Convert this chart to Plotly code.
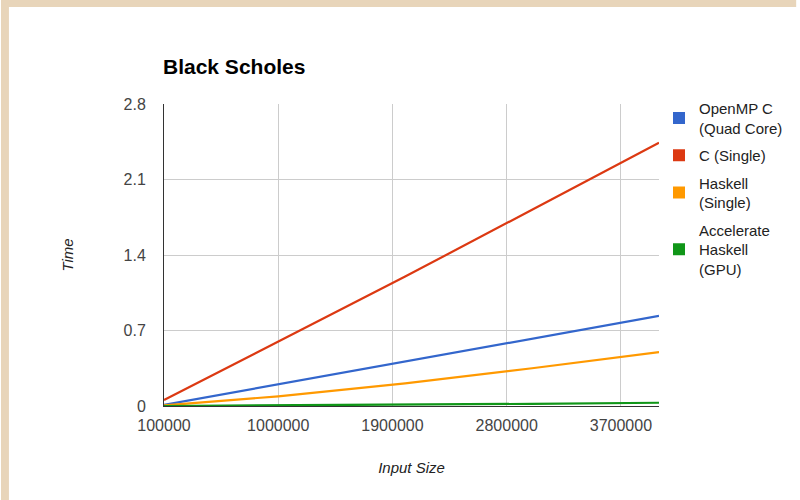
import plotly.graph_objects as go

input_size = [100000, 1000000, 2000000, 3000000, 4000000]
openmp_quad = [0.01, 0.20, 0.415, 0.625, 0.835]
c_single = [0.055, 0.60, 1.20, 1.82, 2.44]
haskell_single = [0.005, 0.09, 0.21, 0.35, 0.50]
accelerate_gpu = [0.0, 0.005, 0.012, 0.02, 0.03]

series_names = ["OpenMP C<br>(Quad Core)", "C (Single)", "Haskell<br>(Single)",
                "Accelerate<br>Haskell<br>(GPU)"]
series_vals = [openmp_quad, c_single, haskell_single, accelerate_gpu]
colors = ["#3366CC", "#DC3912", "#FF9900", "#109618"]

x_ticks = [100000, 1000000, 1900000, 2800000, 3700000]
y_ticks = [0, 0.7, 1.4, 2.1, 2.8]

fig = go.Figure()
for name, vals, col in zip(series_names, series_vals, colors):
    fig.add_trace(go.Scatter(x=input_size, y=vals, mode="lines",
                             line=dict(color=col, width=2.2),
                             showlegend=False, hoverinfo="x+y"))
for i, (name, col) in enumerate(zip(series_names, colors)):
    fig.add_trace(go.Scatter(x=[None], y=[None], mode="markers", name=name,
                             legendgroup="g%d" % i,
                             marker=dict(symbol="square", size=15, color=col)))

L, R, T, B = 164, 138, 104, 94
W, H = 800, 500
pw, ph = W - L - R, H - T - B

def px_x(p):
    return (p - L) / pw

def px_y(p):
    return (H - B - p) / ph

beige = "#E8D5BA"
fig.update_layout(
    width=W, height=H,
    margin=dict(l=L, r=R, t=T, b=B),
    paper_bgcolor="white", plot_bgcolor="white",
    font=dict(family="Liberation Sans, Arial", size=15, color="#444444"),
    title=dict(text="<b>Black Scholes</b>", xref="container", x=163 / W,
               xanchor="left", yref="container", y=1 - 67 / H, yanchor="middle",
               font=dict(size=21, color="#000000")),
    xaxis=dict(range=[100000, 4000000], tickvals=x_ticks,
               ticktext=[str(v) for v in x_ticks],
               showgrid=True, gridcolor="#CCCCCC", gridwidth=1,
               zeroline=False, showline=True, linecolor="#333333", linewidth=1,
               ticks="", tickfont=dict(size=16, color="#444444"),
               ticklabelstandoff=5,
               title=dict(text="<i>Input Size</i>", standoff=29,
                          font=dict(size=15, color="#222222"))),
    yaxis=dict(range=[0, 2.8], tickvals=y_ticks,
               ticktext=["0", "0.7", "1.4", "2.1", "2.8"],
               showgrid=True, gridcolor="#CCCCCC", gridwidth=1,
               zeroline=False, showline=True, linecolor="#333333", linewidth=1,
               ticks="", tickfont=dict(size=16, color="#444444"),
               ticklabelstandoff=14,
               title=dict(text="<i>Time</i>", standoff=46,
                          font=dict(size=15, color="#222222"))),
    legend=dict(x=px_x(662), xanchor="left", y=px_y(92), yanchor="top",
                font=dict(size=15, color="#222222"), tracegroupgap=5,
                itemsizing="constant", bgcolor="rgba(0,0,0,0)"),
    shapes=[
        dict(type="rect", xref="paper", yref="paper", x0=px_x(0), x1=px_x(8),
             y0=px_y(H), y1=px_y(0), fillcolor=beige, line=dict(width=0),
             layer="below"),
        dict(type="rect", xref="paper", yref="paper", x0=px_x(0), x1=px_x(W),
             y0=px_y(7), y1=px_y(0), fillcolor=beige, line=dict(width=0),
             layer="below"),
    ],
)

fig.write_html("out.html")
